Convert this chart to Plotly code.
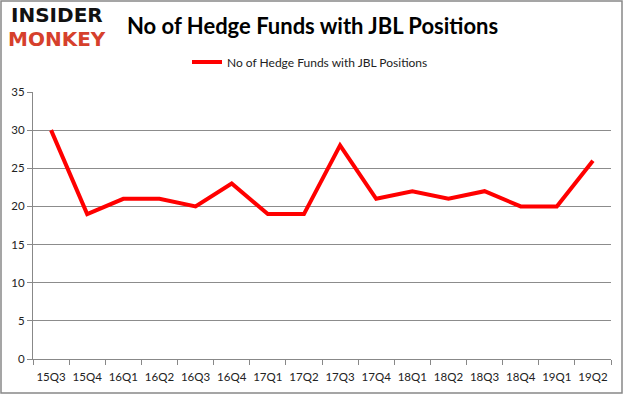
import plotly.graph_objects as go

quarters = ["15Q3", "15Q4", "16Q1", "16Q2", "16Q3", "16Q4", "17Q1", "17Q2",
            "17Q3", "17Q4", "18Q1", "18Q2", "18Q3", "18Q4", "19Q1", "19Q2"]
hedge_funds = [30, 19, 21, 21, 20, 23, 19, 19, 28, 21, 22, 21, 22, 20, 20, 26]
y_ticks = [0, 5, 10, 15, 20, 25, 30, 35]

W, H = 625, 395
L, R, T, B = 33, 14, 92, 36
pw, ph = W - L - R, H - T - B

def px(x):
    return (x - L) / pw

def py(y):
    return (H - B - y) / ph

fig = go.Figure()
fig.add_trace(go.Scatter(
    x=quarters, y=hedge_funds, mode="lines",
    name="No of Hedge Funds with JBL Positions",
    line=dict(color="#ff0000", width=4),
))

fig.update_layout(
    width=W, height=H,
    margin=dict(l=L, r=R, t=T, b=B, autoexpand=False),
    paper_bgcolor="white", plot_bgcolor="white",
    showlegend=True,
    legend=dict(orientation="h", x=px(187), y=py(62), xanchor="left", yanchor="middle",
                font=dict(family="Lato, Open Sans, sans-serif", size=12, color="#222"),
                bgcolor="rgba(0,0,0,0)"),
    xaxis=dict(
        type="category", showgrid=False, showline=True, linecolor="#888", linewidth=1,
        ticks="outside", tickson="boundaries", ticklen=5, tickcolor="#888",
        tickangle=0, automargin=False, ticklabelstandoff=7,
        tickfont=dict(family="Lato, Open Sans, sans-serif", size=11.5, color="#222"),
        range=[-0.5, 15.5], fixedrange=True,
    ),
    yaxis=dict(
        range=[0, 35], tickvals=y_ticks, showgrid=True, gridcolor="#8c8c8c", gridwidth=1,
        showline=True, linecolor="#888", linewidth=1, ticks="outside", ticklen=5,
        tickcolor="#888", zeroline=False, automargin=False,
        tickfont=dict(family="Lato, Open Sans, sans-serif", size=11.5, color="#222"),
    ),
)

fig.add_annotation(
    text="<b>No of Hedge Funds with JBL Positions</b>", xref="paper", yref="paper",
    x=px(312), y=py(25), xanchor="center", yanchor="middle", showarrow=False,
    font=dict(family="Lato, Open Sans, sans-serif", size=22, color="#000"),
)
fig.add_annotation(
    text="<b>INSIDER</b>", xref="paper", yref="paper",
    x=px(57), y=py(15), xanchor="center", yanchor="middle", showarrow=False,
    font=dict(family="DejaVu Sans, sans-serif", size=20, color="#111"),
)
fig.add_annotation(
    text="<b>MONKEY</b>", xref="paper", yref="paper",
    x=px(57), y=py(39), xanchor="center", yanchor="middle", showarrow=False,
    font=dict(family="DejaVu Sans, sans-serif", size=20, color="#d6402c"),
)
fig.add_shape(
    type="rect", xref="paper", yref="paper",
    x0=px(1), x1=px(622), y0=py(393), y1=py(1),
    line=dict(color="#888", width=1.5), fillcolor="rgba(0,0,0,0)", layer="below",
)

fig.write_html("out.html", config={"displayModeBar": False},
               post_script="document.body.style.margin='0';document.body.style.overflow='hidden';")
